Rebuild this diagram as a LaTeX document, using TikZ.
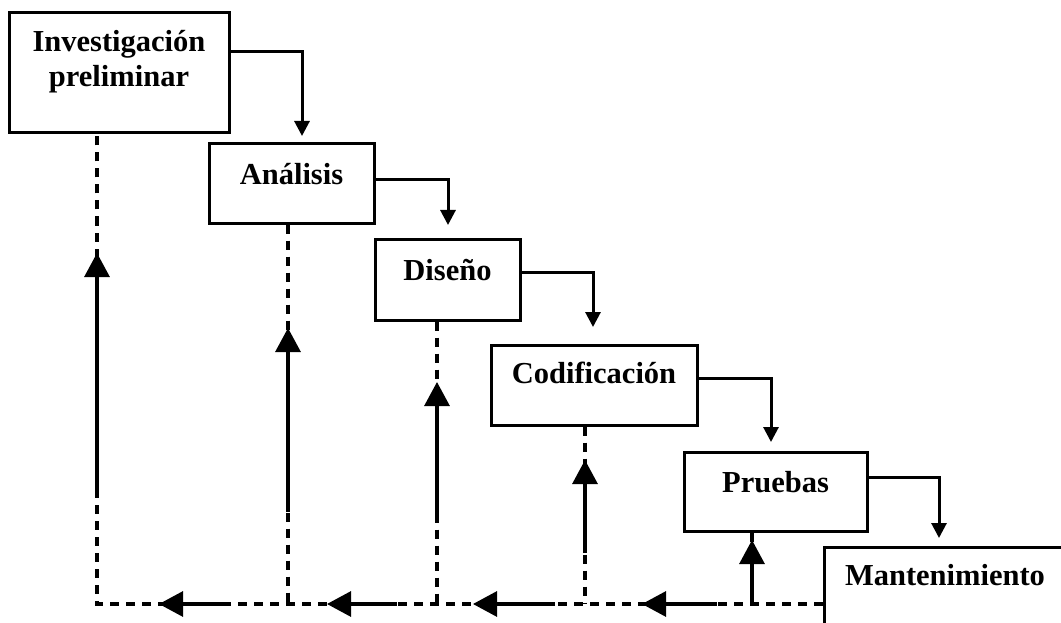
\documentclass[tikz,border=0pt]{standalone}
\usepackage{fontspec}
\setmainfont{Liberation Serif}
\usetikzlibrary{arrows.meta}
\begin{document}
\begin{tikzpicture}[x=1pt,y=-1pt,
  stagebox/.style={draw, rectangle, line width=3pt, inner sep=0pt},
  stagetext/.style={inner sep=0pt, anchor=base, align=center,
    font=\fontsize{30.5}{35}\selectfont\bfseries},
  flow/.style={line width=3pt, -{Triangle[length=15pt,width=15pt]}},
  backdash/.style={line width=3.1pt, dash pattern=on 9pt off 7pt},
  backarrow/.style={line width=3.1pt, -{Triangle[length=24pt,width=25pt]}}]
  \clip (0,0) rectangle (1061,623);
  \fill[white] (0,0) rectangle (1061,623);

  % stages of the cascade
  \node[stagebox, minimum width=220pt, minimum height=120pt] (b1) at (119,73) {};
  \node[stagebox, minimum width=165pt, minimum height=79pt] (b2) at (291.5,183.5) {};
  \node[stagebox, minimum width=145pt, minimum height=81pt] (b3) at (447.5,279.5) {};
  \node[stagebox, minimum width=206pt, minimum height=80pt] (b4) at (594,385) {};
  \node[stagebox, minimum width=183pt, minimum height=79pt] (b5) at (775.5,491.5) {};
  \node[stagebox, minimum width=250pt, minimum height=120pt] (b6) at (949,607) {};

  % the base anchor of a two-line node sits on its last line
  \node[stagetext] (t1) at (119,87) {Investigación\\preliminar};
  \node[stagetext] (t2) at (291.5,185) {Análisis};
  \node[stagetext] (t3) at (447.5,280) {Diseño};
  \node[stagetext] (t4) at (594,383) {Codificación};
  \node[stagetext] (t5) at (775.5,492) {Pruebas};
  \node[stagetext] (t6) at (945,585) {Mantenimiento};

  % forward flow between stages
  \coordinate (e1) at (302,136);
  \coordinate (e2) at (448,225);
  \coordinate (e3) at (593,327);
  \coordinate (e4) at (771,442);
  \coordinate (e5) at (939,538);
  \draw[flow] (b1.east |- 0,52) -| (e1);
  \draw[flow] (b2.east |- 0,180) -| (e2);
  \draw[flow] (b3.east |- 0,272) -| (e3);
  \draw[flow] (b4.east |- 0,378) -| (e4);
  \draw[flow] (b5.east |- 0,477) -| (e5);

  % feedback: dashed return paths
  \coordinate (v1) at (97,604);
  \coordinate (v2) at (288,604);
  \coordinate (v3) at (437,604);
  \coordinate (v4) at (585,604);
  \coordinate (v5) at (752,604);
  \draw[backdash] (b6.west |- v1) -- (v1) -- (b1.south -| v1);
  \draw[backdash] (b2.south -| v2) -- (v2);
  \draw[backdash] (b3.south -| v3) -- (v3);
  \draw[backdash] (b4.south -| v4) -- (v4);
  \draw[backdash] (b5.south -| v5) -- (v5);

  % feedback: solid arrow stretches, upward
  \coordinate (s1) at (97,493);  \coordinate (u1) at (97,253);
  \coordinate (s2) at (288,512); \coordinate (u2) at (288,328);
  \coordinate (s3) at (437,517); \coordinate (u3) at (437,382);
  \coordinate (s4) at (585,553); \coordinate (u4) at (585,460);
  \coordinate (s5) at (752,597); \coordinate (u5) at (752,540);
  \draw[backarrow] (s1) -- (u1);
  \draw[backarrow] (s2) -- (u2);
  \draw[backarrow] (s3) -- (u3);
  \draw[backarrow] (s4) -- (u4);
  \draw[backarrow] (s5) -- (u5);

  % feedback: solid arrow stretches, leftward
  \coordinate (h1) at (230,604); \coordinate (k1) at (159,604);
  \coordinate (h2) at (397,604); \coordinate (k2) at (327,604);
  \coordinate (h3) at (555,604); \coordinate (k3) at (473,604);
  \coordinate (h4) at (717,604); \coordinate (k4) at (642,604);
  \draw[backarrow] (h1) -- (k1);
  \draw[backarrow] (h2) -- (k2);
  \draw[backarrow] (h3) -- (k3);
  \draw[backarrow] (h4) -- (k4);
\end{tikzpicture}
\end{document}
